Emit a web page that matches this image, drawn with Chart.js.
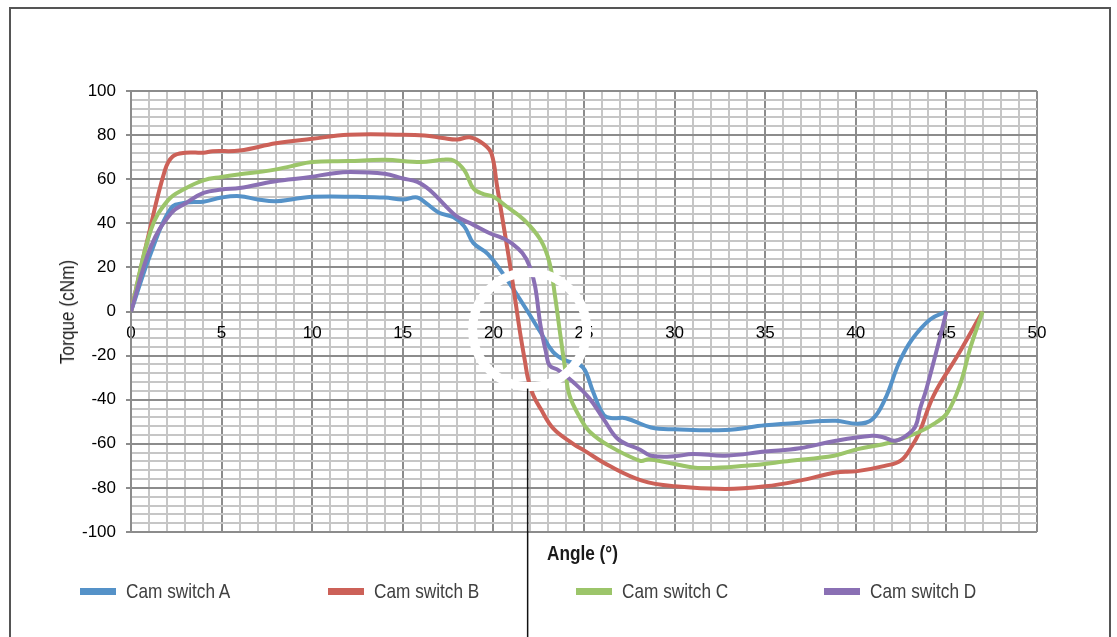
<!DOCTYPE html>
<html>
<head>
<meta charset="utf-8">
<script src="https://cdn.jsdelivr.net/npm/chart.js@4.4.0/dist/chart.umd.min.js"></script>
<style>
  html, body { margin: 0; padding: 0; background: #fff; }
  body { width: 1117px; height: 637px; position: relative; overflow: hidden; }
  #frame { position: absolute; left: 9px; top: 7px; width: 1102px; height: 660px; border: 2px solid #555; box-sizing: border-box; }
  canvas { position: absolute; left: 0; top: 0; }
  /* no narrow font installed: squeeze Liberation Sans to look condensed */
  .estreito { display: inline-block; font-family: 'Liberation Sans', Arial, sans-serif; font-size: 21px; white-space: nowrap; }
  #xtitle { position: absolute; left: 547px; top: 541px; font-weight: bold; color: #1a1a1a; transform: scaleX(0.82); transform-origin: left center; }
  #ytitle { position: absolute; left: 67px; top: 312px; color: #1a1a1a; transform: translate(-50%, -50%) rotate(-90deg) scale(0.82, 1); }
  .item { position: absolute; top: 579px; height: 24px; display: flex; align-items: center; }
  .swatch { width: 36px; height: 7px; margin-right: 10px; }
  .item .estreito { color: #404040; transform: scaleX(0.82); transform-origin: left center; }
</style>
</head>
<body>
<div id="frame"></div>
<canvas id="grafico" width="1117" height="637"></canvas>
<div id="xtitle" class="estreito">Angle (°)</div>
<div id="ytitle" class="estreito">Torque (cNm)</div>
<div id="legenda"></div>
<script>
// series names, colours
const seriesNames = ['Cam switch A', 'Cam switch B', 'Cam switch C', 'Cam switch D'];
const seriesColors = ['#5592c8', '#cc6158', '#9cc56a', '#8a70b4'];

// angle (°) / torque (cNm)
const angleA  = [0, 1.1, 2.2, 3, 4, 5, 6, 7, 8, 9, 10, 12.5, 14, 15, 15.8, 16.3, 17, 17.8, 18.4, 18.9, 19.7, 20.75, 21.7, 22.6, 23.3, 24, 24.8, 25.1, 25.5, 26.1, 26.6, 27.3, 28.7, 30, 32.8, 35, 36.9, 38.9, 40.1, 40.9, 41.6, 42.4, 43.1, 44.1, 45];
const torqueA = [0, 26.5, 46.8, 49.3, 49.8, 51.7, 52.3, 50.8, 50, 51, 52, 52, 51.7, 50.8, 51.7, 49, 44.8, 42.7, 38.5, 31, 26, 14.5, 2.5, -9.4, -18.4, -22.2, -24.4, -27.4, -36.4, -47, -48.4, -48.4, -52.6, -53.4, -53.7, -51.6, -50.4, -49.6, -50.9, -49, -40, -23, -12.7, -3.6, 0];

const angleB  = [0, 0.95, 1.87, 2.3, 3, 4, 4.5, 6, 8, 10, 12, 15, 16.2, 17.2, 18, 18.7, 19.5, 19.9, 20.2, 20.6, 20.9, 21.2, 21.5, 21.75, 21.9, 22.2, 22.6, 23.3, 24.4, 25, 26.4, 28.2, 30, 32.8, 35, 36.9, 38.9, 40, 41.6, 42.5, 43.1, 43.5, 44.3, 45.6, 47];
const torqueB = [0, 34, 64, 70.3, 72, 72, 72.7, 73, 76.3, 78.3, 80.2, 80.2, 79.8, 78.7, 78, 79, 75.7, 71.5, 57, 37, 22, 5.5, -11, -23, -30, -38, -44, -53, -60, -63, -70, -76.7, -79.3, -80.5, -79.3, -76.7, -73, -72.5, -70, -67.5, -61, -55, -38, -20.2, 0];

const angleC  = [0, 1.1, 2.05, 3, 4, 5, 6, 7.7, 8.8, 10, 12, 14, 16, 17.2, 17.8, 18.4, 18.9, 19.45, 20, 20.75, 21.7, 22.6, 23.1, 23.4, 23.7, 23.96, 24.2, 24.8, 25.3, 26.4, 28.1, 28.6, 30, 31.5, 33.9, 36.4, 38.8, 40.1, 41.9, 43.4, 44.4, 45.05, 45.8, 46.3, 47];
const torqueC = [0, 37, 50.5, 55.8, 59.5, 61, 62.2, 64, 65.8, 67.8, 68.2, 68.8, 67.8, 68.8, 68.5, 64, 55.8, 53.2, 52, 47.5, 41.5, 32.5, 22, 7, -11, -26, -38, -48.4, -54.4, -61, -67.7, -67, -69.2, -71, -70, -67.7, -65.4, -62.4, -59.4, -55, -50.5, -46, -32, -17, 0];

const angleD  = [0, 1.1, 2.2, 3, 4, 5, 6, 7.9, 9.9, 11, 12.1, 14, 15, 15.8, 16.5, 17.4, 18, 18.9, 19.8, 20.5, 21, 21.6, 22, 22.3, 22.6, 22.9, 23.1, 23.6, 24.4, 25.3, 26.1, 26.9, 28.1, 28.7, 30, 31, 32.8, 35, 36.9, 38.9, 40.9, 41.5, 42.2, 42.9, 43.3, 43.55, 43.9, 44.7, 45];
const torqueD = [0, 29.5, 44.5, 49, 53.8, 55.3, 56, 59, 61, 62.5, 63.3, 62.5, 60.3, 58.8, 55, 47.5, 43, 39.3, 35.5, 33.3, 31, 26.5, 20.5, 11.5, -6.4, -18.4, -24.4, -26.7, -32, -39.4, -49, -58, -62.7, -65.4, -65.7, -64.6, -65.4, -63.5, -62, -58.6, -56.4, -57, -58.6, -55.6, -52, -44, -35, -10, 0];

const angles  = [angleA, angleB, angleC, angleD];
const torques = [torqueA, torqueB, torqueC, torqueD];

// circle marker drawn over the chart (data coords)
const anelAngulo = 22.0;
const anelTorque = -8.2;

const fonteTicks = "'Liberation Sans', Arial, sans-serif";

function corGrade(passoMaior, claro, escuro) {
  return (c) => (c.tick && c.tick.value % passoMaior === 0) ? escuro : claro;
}

const anelPlugin = {
  id: 'anel',
  afterDraw(chart) {
    const { ctx, scales } = chart;
    const cx = scales.x.getPixelForValue(anelAngulo);
    const cy = scales.y.getPixelForValue(anelTorque);
    const r = 57;
    ctx.save();
    ctx.strokeStyle = '#ffffff';
    ctx.lineWidth = 9;
    ctx.beginPath();
    ctx.arc(cx, cy, r, 0, Math.PI * 2);
    ctx.stroke();
    // linha de chamada
    ctx.strokeStyle = '#111';
    ctx.lineWidth = 1.5;
    ctx.beginPath();
    ctx.moveTo(cx - 2, cy + r + 2);
    ctx.lineTo(cx - 2, chart.height);
    ctx.stroke();
    ctx.restore();
  }
};

const datasets = seriesNames.map((nome, i) => ({
  label: nome,
  data: angles[i].map((a, k) => ({ x: a, y: torques[i][k] })),
  borderColor: seriesColors[i],
  backgroundColor: seriesColors[i],
  borderWidth: 4,
  pointRadius: 0,
  tension: 0.4,
  fill: false,
  order: seriesNames.length - i // D on top, like the original
}));

new Chart(document.getElementById('grafico'), {
  type: 'line',
  data: { datasets },
  plugins: [anelPlugin],
  options: {
    responsive: false,
    animation: false,
    layout: { padding: { left: 55, top: 91, right: 80, bottom: 105 } },
    plugins: { legend: { display: false }, tooltip: { enabled: false } },
    scales: {
      x: {
        type: 'linear',
        position: { y: 0 },
        min: 0, max: 50,
        ticks: {
          stepSize: 1, autoSkip: false, maxRotation: 0, padding: 12,
          color: '#000', font: { family: fonteTicks, size: 17 },
          callback: (v) => (v % 5 === 0 ? v : '')
        },
        grid: { drawTicks: false, lineWidth: 2, color: corGrade(5, '#c6c6c6', '#8c8c8c') },
        border: { color: '#8c8c8c', width: 2 }
      },
      y: {
        min: -100, max: 100,
        afterFit: (s) => { s.width = 76; },
        ticks: {
          stepSize: 4, autoSkip: false, padding: 10,
          color: '#000', font: { family: fonteTicks, size: 17 },
          callback: (v) => (v % 20 === 0 ? v : '')
        },
        grid: {
          lineWidth: 2, tickLength: 5,
          color: corGrade(20, '#c6c6c6', '#8c8c8c'),
          tickColor: corGrade(20, 'rgba(0,0,0,0)', '#8c8c8c')
        },
        border: { color: '#8c8c8c', width: 2 }
      }
    }
  }
});

// legenda em HTML, espaçamento fixo como no original
const legenda = document.getElementById('legenda');
seriesNames.forEach((nome, i) => {
  const item = document.createElement('div');
  item.className = 'item';
  item.style.left = (80 + i * 248) + 'px';
  item.innerHTML = '<span class="swatch" style="background:' + seriesColors[i] + '"></span><span class="estreito">' + nome + '</span>';
  legenda.appendChild(item);
});
</script>
</body>
</html>
